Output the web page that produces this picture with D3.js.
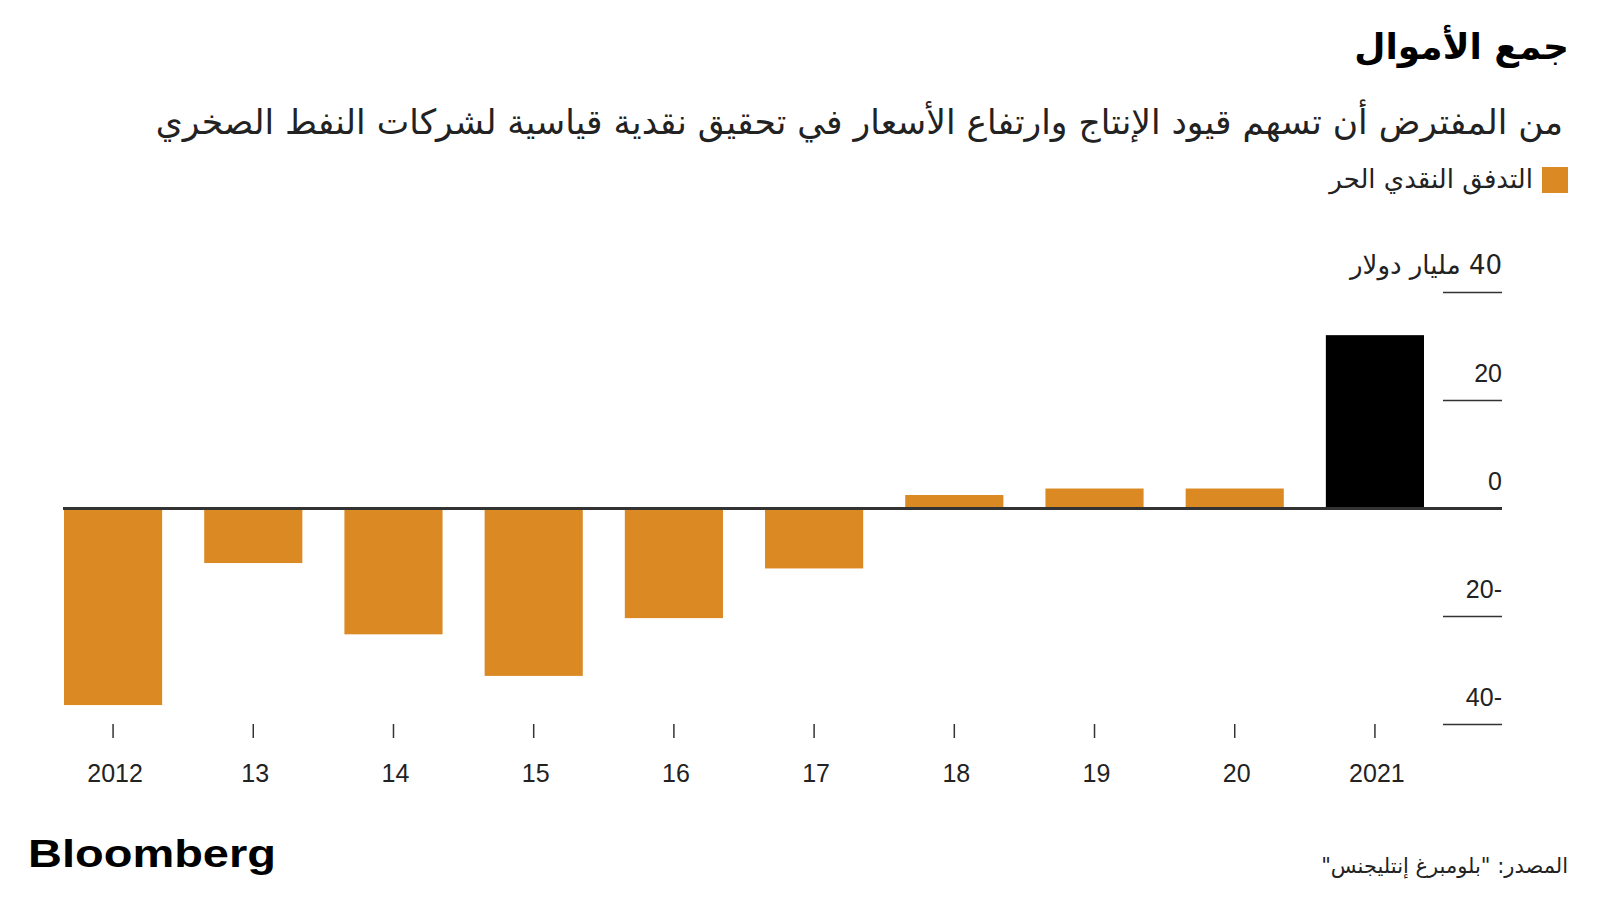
<!DOCTYPE html>
<html><head><meta charset="utf-8">
<script src="https://cdn.jsdelivr.net/npm/d3@7"></script>
<style>
html,body{margin:0;padding:0;background:#fff;}
svg{display:block;}
</style></head>
<body>
<svg id="chart" width="1600" height="900"></svg>
<script>
const years = ["2012","13","14","15","16","17","18","19","20","2021"];
const freeCashFlow = [-36.4, -10.1, -23.3, -31.0, -20.3, -11.1, 2.5, 3.7, 3.7, 32.1];
const yTicks = [40, 20, 0, -20, -40];
const title = "جمع الأموال";
const subtitle = "من المفترض أن تسهم قيود الإنتاج وارتفاع الأسعار في تحقيق نقدية قياسية لشركات النفط الصخري";
const legendLabel = "التدفق النقدي الحر";
const unitLabel = "40 مليار دولار";
const source = "المصدر: \"بلومبرغ إنتليجنس\"";

const ORANGE = "#DA8923";
const INK = "#222";
const arFont = "'DejaVu Sans', 'Noto Sans', sans-serif";
const numFont = "'Liberation Sans', Arial, sans-serif";

const svg = d3.select("#chart");

const x = d3.scaleBand().domain(years).range([64, 1424]).paddingInner(0.3).paddingOuter(0);
const y = d3.scaleLinear().domain([-40, 40]).range([724.5, 292.5]);

// Title / subtitle / legend
svg.append("text").attr("x", 1569).attr("y", 59).attr("direction", "rtl").attr("text-anchor", "start")
  .attr("font-family", arFont).attr("font-weight", "bold").attr("font-size", 36).attr("fill", "#000").text(title);
svg.append("text").attr("x", 1563).attr("y", 134).attr("direction", "rtl").attr("text-anchor", "start")
  .attr("font-family", arFont).attr("font-size", 34.5).attr("fill", INK).text(subtitle);
svg.append("rect").attr("x", 1542).attr("y", 167).attr("width", 26).attr("height", 26).attr("fill", ORANGE);
svg.append("text").attr("x", 1533).attr("y", 188).attr("direction", "rtl").attr("text-anchor", "start")
  .attr("font-family", arFont).attr("font-size", 26).attr("fill", INK).text(legendLabel);

// Gridline stubs and y labels
const yg = svg.append("g");
yTicks.filter(d => d !== 0).forEach(d => {
  yg.append("line").attr("x1", 1443).attr("x2", 1502).attr("y1", y(d)).attr("y2", y(d))
    .attr("stroke", "#333").attr("stroke-width", 1.5);
});
yTicks.forEach(d => {
  const t = yg.append("text").attr("x", 1502).attr("y", y(d) - 19)
    .attr("font-size", 25).attr("fill", INK);
  if (d === 40) {
    t.attr("direction", "rtl").attr("text-anchor", "start").attr("font-family", arFont).attr("font-size", 26).text(unitLabel);
  } else {
    t.attr("text-anchor", "end").attr("font-family", numFont).text(d < 0 ? Math.abs(d) + "-" : String(d));
  }
});

// Bars
svg.append("g").selectAll("rect").data(years).join("rect")
  .attr("x", d => x(d))
  .attr("width", x.bandwidth())
  .attr("y", (d, i) => y(Math.max(0, freeCashFlow[i])))
  .attr("height", (d, i) => Math.abs(y(freeCashFlow[i]) - y(0)))
  .attr("fill", (d, i) => i === years.length - 1 ? "#000" : ORANGE);

// Zero line
svg.append("line").attr("x1", 63).attr("x2", 1502).attr("y1", y(0)).attr("y2", y(0))
  .attr("stroke", "#333").attr("stroke-width", 3);

// X axis ticks & labels
const xg = svg.append("g");
years.forEach(d => {
  const cx = x(d) + x.bandwidth() / 2;
  xg.append("line").attr("x1", cx).attr("x2", cx).attr("y1", 724).attr("y2", 738)
    .attr("stroke", "#333").attr("stroke-width", 1.5);
  xg.append("text").attr("x", cx + 2).attr("y", 782).attr("text-anchor", "middle")
    .attr("font-family", numFont).attr("font-size", 25).attr("fill", INK).text(d);
});

// Footer
svg.append("text").attr("x", 28).attr("y", 867).attr("font-family", numFont).attr("font-weight", "bold")
  .attr("font-size", 38).attr("textLength", 248).attr("lengthAdjust", "spacingAndGlyphs")
  .attr("fill", "#000").text("Bloomberg");
svg.append("text").attr("x", 1568).attr("y", 873).attr("direction", "rtl").attr("text-anchor", "start")
  .attr("font-family", arFont).attr("font-size", 21).attr("fill", INK).text(source);
</script>
</body></html>
